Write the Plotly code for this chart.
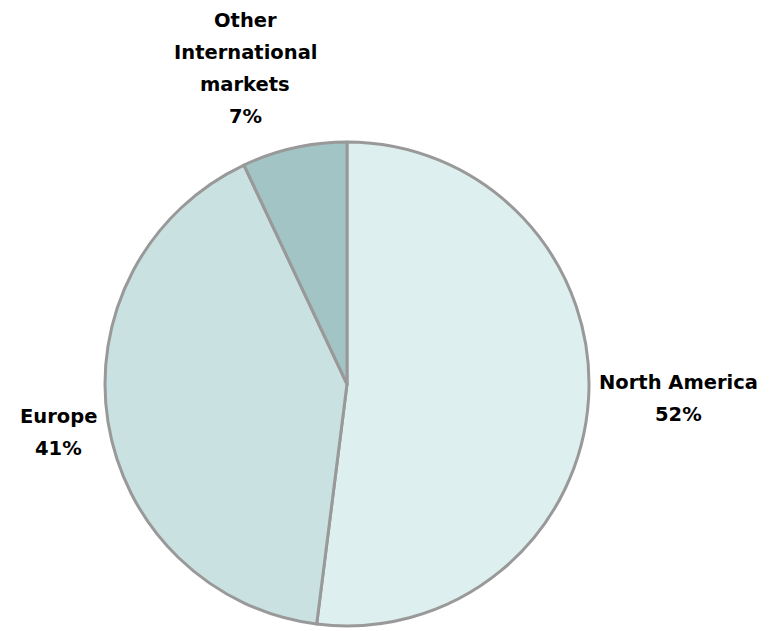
import plotly.graph_objects as go

# Data
regions = ['North America', 'Europe', 'Other International markets']
shares = [52, 41, 7]
label_lines = [['North America'], ['Europe'], ['Other', 'International', 'markets']]
slice_colors = ['#DEEFEF', '#C9E1E1', '#A2C4C4']

W, H = 769, 631
OFF = 8  # page body margin pushes the figure 8px right/down
# label anchors in screen pixels: centre x, middle of first line
label_pos = [(678, 382), (58, 416), (245, 21)]
pitch = 32

fig = go.Figure()
fig.add_trace(
    go.Pie(
        labels=regions,
        values=shares,
        sort=False,
        direction='clockwise',
        rotation=0,
        textinfo='none',
        hoverinfo='label+percent',
        marker=dict(colors=slice_colors, line=dict(color='#999999', width=3)),
        domain=dict(x=[(105 - OFF) / W, (589 - OFF) / W],
                    y=[(H - 626 + OFF) / H, (H - 142 + OFF) / H]),
        showlegend=False,
    )
)

annotations = []
for lines, pct, (cx, cy) in zip(label_lines, shares, label_pos):
    for i, txt in enumerate(lines + [f'{pct}%']):
        annotations.append(dict(
            text=f'<b>{txt}</b>',
            x=(cx - OFF) / W, y=1 - (cy - OFF + i * pitch) / H,
            xref='paper', yref='paper',
            xanchor='center', yanchor='middle',
            showarrow=False,
            font=dict(family='DejaVu Sans', size=19.5, color='#000000'),
        ))

fig.update_layout(
    width=W, height=H,
    margin=dict(l=0, r=0, t=0, b=0),
    paper_bgcolor='white',
    plot_bgcolor='white',
    annotations=annotations,
)

fig.write_html('out.html')
